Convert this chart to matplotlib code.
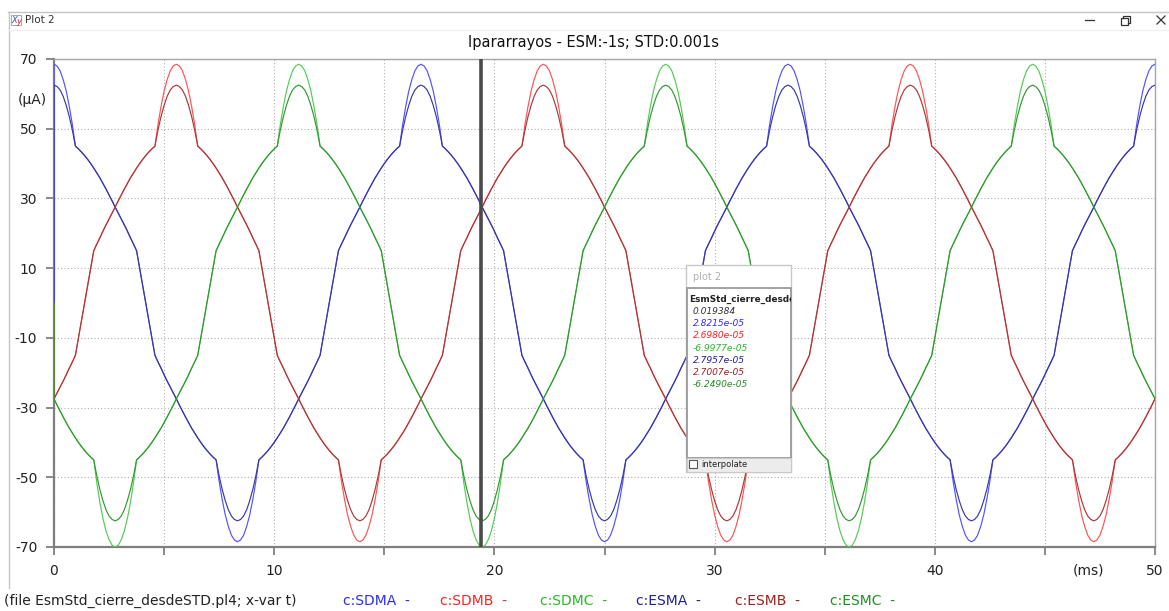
import numpy as np
import matplotlib
matplotlib.use('Agg')
import matplotlib.pyplot as plt
from matplotlib.patches import Rectangle

plt.rcParams['font.family'] = ['DejaVu Sans']
plt.rcParams['axes.unicode_minus'] = False

# sample times in ms (3 electrical degrees apart at 60 Hz)
T_MS = np.linspace(0, 50, 361)

# one 60 Hz cycle of each arrester current (uA), steady state
SDMA = [68.5, 68.0, 66.6, 64.1, 60.8, 56.4, 51.2, 45.0, 44.2, 43.3, 42.3, 41.2, 40.0, 38.7, 37.3, 35.9,
        34.3, 32.7, 31.0, 29.3, 27.5, 25.8, 24.1, 22.4, 20.6, 18.7, 16.9, 15.0, 10.0, 5.0, 0.0,
        -5.0, -10.0, -15.0, -16.9, -18.7, -20.6, -22.4, -24.1, -25.8, -27.5, -29.3, -31.0, -32.7, -34.3,
        -35.9, -37.3, -38.7, -40.0, -41.2, -42.3, -43.3, -44.2, -45.0, -51.2, -56.4, -60.8, -64.1, -66.6,
        -68.0, -68.5,
        -68.0, -66.6, -64.1, -60.8, -56.4, -51.2, -45.0, -44.2, -43.3, -42.3, -41.2, -40.0, -38.7, -37.3,
        -35.9, -34.3, -32.7, -31.0, -29.3, -27.5, -25.8, -24.1, -22.4, -20.6, -18.7, -16.9, -15.0, -10.0,
        -5.0, 0.0,
        5.0, 10.0, 15.0, 16.9, 18.7, 20.6, 22.4, 24.1, 25.8, 27.5, 29.3, 31.0, 32.7, 34.3, 35.9, 37.3,
        38.7, 40.0, 41.2, 42.3, 43.3, 44.2, 45.0, 51.2, 56.4, 60.8, 64.1, 66.6, 68.0]
SDMB = [-27.5, -25.8, -24.1, -22.4, -20.6, -18.7, -16.9, -15.0, -10.0, -5.0, 0.0,
        5.0, 10.0, 15.0, 16.9, 18.7, 20.6, 22.4, 24.1, 25.8, 27.5, 29.3, 31.0, 32.7, 34.3, 35.9, 37.3,
        38.7, 40.0, 41.2, 42.3, 43.3, 44.2, 45.0, 51.2, 56.4, 60.8, 64.1, 66.6, 68.0,
        68.5, 68.0, 66.6, 64.1, 60.8, 56.4, 51.2, 45.0, 44.2, 43.3, 42.3, 41.2, 40.0, 38.7, 37.3, 35.9,
        34.3, 32.7, 31.0, 29.3, 27.5, 25.8, 24.1, 22.4, 20.6, 18.7, 16.9, 15.0, 10.0, 5.0, 0.0,
        -5.0, -10.0, -15.0, -16.9, -18.7, -20.6, -22.4, -24.1, -25.8, -27.5, -29.3, -31.0, -32.7, -34.3,
        -35.9, -37.3, -38.7, -40.0, -41.2, -42.3, -43.3, -44.2, -45.0, -51.2, -56.4, -60.8, -64.1, -66.6,
        -68.0, -68.5,
        -68.0, -66.6, -64.1, -60.8, -56.4, -51.2, -45.0, -44.2, -43.3, -42.3, -41.2, -40.0, -38.7, -37.3,
        -35.9, -34.3, -32.7, -31.0, -29.3]
SDMC = [-27.5, -29.3, -31.0, -32.7, -34.3, -35.9, -37.3, -38.7, -40.0, -41.2, -42.3, -43.3, -44.2,
        -45.0, -51.6, -57.2, -61.8, -65.4, -67.9, -69.5, -70.0,
        -69.5, -67.9, -65.4, -61.8, -57.2, -51.6, -45.0, -44.2, -43.3, -42.3, -41.2, -40.0, -38.7, -37.3,
        -35.9, -34.3, -32.7, -31.0, -29.3, -27.5, -25.8, -24.1, -22.4, -20.6, -18.7, -16.9, -15.0, -10.0,
        -5.0, 0.0,
        5.0, 10.0, 15.0, 16.9, 18.7, 20.6, 22.4, 24.1, 25.8, 27.5, 29.3, 31.0, 32.7, 34.3, 35.9, 37.3,
        38.7, 40.0, 41.2, 42.3, 43.3, 44.2, 45.0, 51.2, 56.4, 60.8, 64.1, 66.6, 68.0,
        68.5, 68.0, 66.6, 64.1, 60.8, 56.4, 51.2, 45.0, 44.2, 43.3, 42.3, 41.2, 40.0, 38.7, 37.3, 35.9,
        34.3, 32.7, 31.0, 29.3, 27.5, 25.8, 24.1, 22.4, 20.6, 18.7, 16.9, 15.0, 10.0, 5.0, 0.0,
        -5.0, -10.0, -15.0, -16.9, -18.7, -20.6, -22.4, -24.1, -25.8]
ESMA = [62.5, 62.1, 61.1, 59.3, 56.7, 53.5, 49.6, 45.0, 44.2, 43.3, 42.3, 41.2, 40.0, 38.7, 37.3, 35.9,
        34.3, 32.7, 31.0, 29.3, 27.5, 25.8, 24.1, 22.4, 20.6, 18.7, 16.9, 15.0, 10.0, 5.0, 0.0,
        -5.0, -10.0, -15.0, -16.9, -18.7, -20.6, -22.4, -24.1, -25.8, -27.5, -29.3, -31.0, -32.7, -34.3,
        -35.9, -37.3, -38.7, -40.0, -41.2, -42.3, -43.3, -44.2, -45.0, -49.6, -53.5, -56.7, -59.3, -61.1,
        -62.1, -62.5,
        -62.1, -61.1, -59.3, -56.7, -53.5, -49.6, -45.0, -44.2, -43.3, -42.3, -41.2, -40.0, -38.7, -37.3,
        -35.9, -34.3, -32.7, -31.0, -29.3, -27.5, -25.8, -24.1, -22.4, -20.6, -18.7, -16.9, -15.0, -10.0,
        -5.0, 0.0,
        5.0, 10.0, 15.0, 16.9, 18.7, 20.6, 22.4, 24.1, 25.8, 27.5, 29.3, 31.0, 32.7, 34.3, 35.9, 37.3,
        38.7, 40.0, 41.2, 42.3, 43.3, 44.2, 45.0, 49.6, 53.5, 56.7, 59.3, 61.1, 62.1]
ESMB = [-27.5, -25.8, -24.1, -22.4, -20.6, -18.7, -16.9, -15.0, -10.0, -5.0, 0.0,
        5.0, 10.0, 15.0, 16.9, 18.7, 20.6, 22.4, 24.1, 25.8, 27.5, 29.3, 31.0, 32.7, 34.3, 35.9, 37.3,
        38.7, 40.0, 41.2, 42.3, 43.3, 44.2, 45.0, 49.6, 53.5, 56.7, 59.3, 61.1, 62.1,
        62.5, 62.1, 61.1, 59.3, 56.7, 53.5, 49.6, 45.0, 44.2, 43.3, 42.3, 41.2, 40.0, 38.7, 37.3, 35.9,
        34.3, 32.7, 31.0, 29.3, 27.5, 25.8, 24.1, 22.4, 20.6, 18.7, 16.9, 15.0, 10.0, 5.0, 0.0,
        -5.0, -10.0, -15.0, -16.9, -18.7, -20.6, -22.4, -24.1, -25.8, -27.5, -29.3, -31.0, -32.7, -34.3,
        -35.9, -37.3, -38.7, -40.0, -41.2, -42.3, -43.3, -44.2, -45.0, -49.6, -53.5, -56.7, -59.3, -61.1,
        -62.1, -62.5,
        -62.1, -61.1, -59.3, -56.7, -53.5, -49.6, -45.0, -44.2, -43.3, -42.3, -41.2, -40.0, -38.7, -37.3,
        -35.9, -34.3, -32.7, -31.0, -29.3]
ESMC = [-27.5, -29.3, -31.0, -32.7, -34.3, -35.9, -37.3, -38.7, -40.0, -41.2, -42.3, -43.3, -44.2,
        -45.0, -49.6, -53.5, -56.7, -59.3, -61.1, -62.1, -62.5,
        -62.1, -61.1, -59.3, -56.7, -53.5, -49.6, -45.0, -44.2, -43.3, -42.3, -41.2, -40.0, -38.7, -37.3,
        -35.9, -34.3, -32.7, -31.0, -29.3, -27.5, -25.8, -24.1, -22.4, -20.6, -18.7, -16.9, -15.0, -10.0,
        -5.0, 0.0,
        5.0, 10.0, 15.0, 16.9, 18.7, 20.6, 22.4, 24.1, 25.8, 27.5, 29.3, 31.0, 32.7, 34.3, 35.9, 37.3,
        38.7, 40.0, 41.2, 42.3, 43.3, 44.2, 45.0, 49.6, 53.5, 56.7, 59.3, 61.1, 62.1,
        62.5, 62.1, 61.1, 59.3, 56.7, 53.5, 49.6, 45.0, 44.2, 43.3, 42.3, 41.2, 40.0, 38.7, 37.3, 35.9,
        34.3, 32.7, 31.0, 29.3, 27.5, 25.8, 24.1, 22.4, 20.6, 18.7, 16.9, 15.0, 10.0, 5.0, 0.0,
        -5.0, -10.0, -15.0, -16.9, -18.7, -20.6, -22.4, -24.1, -25.8]

NAMES = ['SDMA', 'SDMB', 'SDMC', 'ESMA', 'ESMB', 'ESMC']
CYCLES = [SDMA, SDMB, SDMC, ESMA, ESMB, ESMC]
LINE_COLORS = ['#5252ff', '#ff5252', '#52cc52', '#3838a8', '#a83838', '#30982f']
TEXT_COLORS = ['#2b2bff', '#ff2020', '#22bb22', '#1f1f99', '#a01f1f', '#1f8f1f']

# cursor readout (time in ms, currents in uA)
CURSOR_MS = 19.384
CURSOR_UA = [28.215, 26.980, -69.977, 27.957, 27.007, -62.490]

X_TICKS = [0, 5, 10, 15, 20, 25, 30, 35, 40, 45, 50]
X_LABELS = ['0', '', '10', '', '20', '', '30', '', '40', '', '50']
Y_TICKS = [-70, -50, -30, -10, 10, 30, 50, 70]

W, H = 1169, 611


def full_trace(cycle, cursor_value):
    y = np.append(np.tile(cycle, 3), cycle[0])
    idx = np.searchsorted(T_MS, CURSOR_MS)
    t = np.insert(T_MS, idx, CURSOR_MS)
    y = np.insert(y, idx, cursor_value)
    # the pl4 traces start from zero at t = 0
    return np.insert(t, 0, 0.0), np.insert(y, 0, 0.0)


fig = plt.figure(figsize=(W / 100, H / 100), dpi=100)
fig.patch.set_facecolor('white')

ax = fig.add_axes([54 / W, 1 - 547 / H, (1155 - 54) / W, (547 - 59) / H])
ax.set_xlim(0, 50)
ax.set_ylim(-70, 70)

for cycle, val, color in zip(CYCLES, CURSOR_UA, LINE_COLORS):
    t, y = full_trace(cycle, val)
    ax.plot(t, y, color=color, lw=0.85, zorder=3)

ax.axvline(CURSOR_MS, color='#4a4a4a', lw=2.6, zorder=5)

ax.set_xticks(X_TICKS)
ax.set_xticklabels(X_LABELS)
ax.set_yticks(Y_TICKS)
ax.set_yticklabels([str(v) for v in Y_TICKS])
ax.tick_params(direction='out', length=6, width=1.3, color='#808080',
               labelsize=10, labelcolor='#222222', pad=6)
ax.grid(True, color='#b0b0b0', lw=0.8, linestyle=(0, (1, 2)))
ax.set_axisbelow(True)
for side in ['left', 'bottom']:
    ax.spines[side].set_color('#7f7f7f')
    ax.spines[side].set_linewidth(1.6)
for side in ['top', 'right']:
    ax.spines[side].set_color('#a6a6a6')
    ax.spines[side].set_linewidth(1.0)

# overlay in pixel coordinates for window frame, labels and readout box
ov = fig.add_axes([0, 0, 1, 1], zorder=10)
ov.set_xlim(0, W)
ov.set_ylim(H, 0)
ov.axis('off')
ov.patch.set_visible(False)

ov.plot([8, W], [11.5, 11.5], color='#c4c4c4', lw=1)
ov.plot([8.5, 8.5], [11.5, 588], color='#c4c4c4', lw=1)
ov.plot([9, W], [30, 30], color='#f0f0f0', lw=1)
ov.add_patch(Rectangle((11, 15), 10, 10, fc='white', ec='#9a9a9a', lw=0.6))
ov.text(11.5, 20.5, 'X', color='#3050c0', fontsize=6, va='center', style='italic')
ov.text(16, 21.5, 'y', color='#d02020', fontsize=6, va='center', style='italic')
ov.text(25, 20, 'Plot 2', color='#333333', fontsize=7.5, va='center')
ov.plot([1085, 1094], [20, 20], color='#333333', lw=0.9)
ov.add_patch(Rectangle((1121, 17.5), 7, 7, fc='none', ec='#333333', lw=0.9))
ov.plot([1123, 1123, 1130, 1130, 1128], [17.5, 15.5, 15.5, 22.5, 22.5], color='#333333', lw=0.9)
ov.plot([1157, 1165], [16, 24], color='#333333', lw=0.9)
ov.plot([1157, 1165], [24, 16], color='#333333', lw=0.9)

ov.text(593, 43, 'Ipararrayos - ESM:-1s; STD:0.001s', fontsize=10.5, color='#111111',
        ha='center', va='center')
ov.text(32, 100, '(\u03bcA)', fontsize=10, color='#222222', ha='center', va='center')
ov.text(1088, 570, '(ms)', fontsize=10, color='#222222', ha='center', va='center')

# trace list along the bottom
ov.text(4, 601, '(file EsmStd_cierre_desdeSTD.pl4; x-var t)', fontsize=10,
        color='#222222', va='center')
for x0, name, color in zip([343, 440, 540, 636, 735, 830], NAMES, TEXT_COLORS):
    ov.text(x0, 601, f'c:{name}  -', fontsize=10, color=color, va='center')

# cursor readout box
ov.add_patch(Rectangle((686, 265), 105, 207, fc='white', ec='#c8c8c8', lw=1))
ov.text(693, 276.5, 'plot 2', fontsize=7, color='#b0b0b0', va='center')
panel = Rectangle((687, 288), 104, 170, fc='white', ec='#9a9a9a', lw=1.3)
ov.add_patch(panel)
ov.add_patch(Rectangle((687, 458), 104, 14, fc='#ececec', ec='#c8c8c8', lw=0.8))
ov.add_patch(Rectangle((688.5, 460), 8, 8, fc='white', ec='#555555', lw=0.8))
ov.text(701, 464.5, 'interpolate', fontsize=6, color='#222222', va='center')
fname = ov.text(689, 299, 'EsmStd_cierre_desdeSTD', fontsize=6.4, fontweight='bold',
                color='#222222', va='center', clip_on=True)
fname.set_clip_path(panel)
ov.text(693, 311.5, f'{CURSOR_MS / 1000:.6f}', fontsize=6.6, style='italic',
        color='#333333', va='center')
for i, (val, color) in enumerate(zip(CURSOR_UA, TEXT_COLORS)):
    ov.text(693, 323.7 + 12.25 * i, f'{val * 1e-6:.4e}', fontsize=6.6, style='italic',
            color=color, va='center')

fig.savefig('out.png', dpi=100)
